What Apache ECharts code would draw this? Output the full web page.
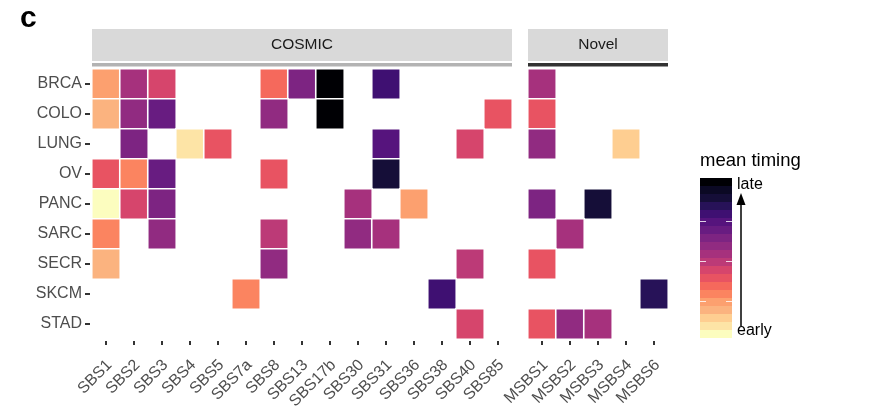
<!DOCTYPE html>
<html>
<head>
<meta charset="utf-8">
<script src="https://cdn.jsdelivr.net/npm/echarts@6/dist/echarts.min.js"></script>
<style>
html,body{margin:0;padding:0;background:#fff;}
#chart{width:873px;height:413px;}
</style>
</head>
<body>
<div id="chart"></div>
<script>
// ---- data ----
const cancerTypes = ['BRCA','COLO','LUNG','OV','PANC','SARC','SECR','SKCM','STAD'];
const cosmicSigs = ['SBS1','SBS2','SBS3','SBS4','SBS5','SBS7a','SBS8','SBS13','SBS17b','SBS30','SBS31','SBS36','SBS38','SBS40','SBS85'];
const novelSigs = ['MSBS1','MSBS2','MSBS3','MSBS4','MSBS6'];

// mean timing (0 = early, 1 = late), null = not present
const cosmicBRCA = [0.23,0.53,0.43,null,null,null,0.33,0.63,0.98,null,0.78,null,null,null,null];
const cosmicCOLO = [0.18,0.58,0.68,null,null,null,0.58,null,0.98,null,null,null,null,null,0.38];
const cosmicLUNG = [null,0.63,null,0.08,0.38,null,null,null,null,null,0.73,null,null,0.43,null];
const cosmicOV   = [0.38,0.28,0.68,null,null,null,0.38,null,null,null,0.88,null,null,null,null];
const cosmicPANC = [0.03,0.43,0.63,null,null,null,null,null,null,0.53,null,0.23,null,null,null];
const cosmicSARC = [0.28,null,0.58,null,null,null,0.48,null,null,0.58,0.53,null,null,null,null];
const cosmicSECR = [0.18,null,null,null,null,null,0.58,null,null,null,null,null,null,0.48,null];
const cosmicSKCM = [null,null,null,null,null,0.28,null,null,null,null,null,null,0.78,null,null];
const cosmicSTAD = [null,null,null,null,null,null,null,null,null,null,null,null,null,0.43,null];

const novelBRCA = [0.53,null,null,null,null];
const novelCOLO = [0.38,null,null,null,null];
const novelLUNG = [0.58,null,null,0.13,null];
const novelOV   = [null,null,null,null,null];
const novelPANC = [0.63,null,0.88,null,null];
const novelSARC = [null,0.53,null,null,null];
const novelSECR = [0.38,null,null,null,null];
const novelSKCM = [null,null,null,null,0.83];
const novelSTAD = [0.38,0.58,0.53,null,null];

// stepped magma palette, early -> late
const palette = ['#FCFDBF','#FDE4A6','#FECE91','#FBB37F','#FCA06F','#FB8460','#F5695C','#E85362','#D6456C','#BC3A77',
                 '#A6317D','#912B81','#7D2482','#681C81','#56147D','#3F1072','#271258','#150E38','#0B0924','#000004'];

// ---- build ----
const cosmicRows = [cosmicBRCA,cosmicCOLO,cosmicLUNG,cosmicOV,cosmicPANC,cosmicSARC,cosmicSECR,cosmicSKCM,cosmicSTAD];
const novelRows = [novelBRCA,novelCOLO,novelLUNG,novelOV,novelPANC,novelSARC,novelSECR,novelSKCM,novelSTAD];
function toCells(rows){
  const out=[];
  rows.forEach((r,yi)=>r.forEach((v,xi)=>{ if(v!==null) out.push([xi,yi,v]); }));
  return out;
}
const pieces = palette.map((c,j)=>({gte:j/20, lt:(j+1)/20 + (j===19?0.001:0), color:c}));

const FONT = '"Liberation Sans", Arial, Helvetica, sans-serif';
const chart = echarts.init(document.getElementById('chart'), null, {renderer:'canvas'});

const xLabel = {rotate:45, fontSize:16, color:'#4d4d4d', fontFamily:FONT, margin:18, verticalAlign:'top', lineHeight:10, interval:0};
const xTick = {show:true, length:4, lineStyle:{color:'#333', width:2}, alignWithLabel:true};

chart.setOption({
  animation:false,
  grid:[
    {left:92, top:69, width:420, height:270},
    {left:528, top:69, width:140, height:270}
  ],
  xAxis:[
    {type:'category', gridIndex:0, data:cosmicSigs, offset:2, axisLine:{show:false}, axisTick:xTick, axisLabel:xLabel, splitLine:{show:false}},
    {type:'category', gridIndex:1, data:novelSigs, offset:2, axisLine:{show:false}, axisTick:xTick, axisLabel:xLabel, splitLine:{show:false}}
  ],
  yAxis:[
    {type:'category', gridIndex:0, data:cancerTypes, inverse:true, offset:2, axisLine:{show:false},
     axisTick:{show:true, length:5, lineStyle:{color:'#333', width:2}, alignWithLabel:true},
     axisLabel:{fontSize:16, color:'#4d4d4d', fontFamily:FONT, margin:8}, splitLine:{show:false}},
    {type:'category', gridIndex:1, data:cancerTypes, inverse:true, axisLine:{show:false}, axisTick:{show:false}, axisLabel:{show:false}, splitLine:{show:false}}
  ],
  visualMap:{
    type:'piecewise', seriesIndex:[0,1], pieces:pieces, orient:'vertical',
    left:700, top:178, itemWidth:32, itemHeight:8, itemGap:0, itemSymbol:'rect',
    showLabel:false, padding:0, selectedMode:false, hoverLink:false
  },
  series:[
    {type:'heatmap', xAxisIndex:0, yAxisIndex:0, data:toCells(cosmicRows),
     itemStyle:{borderColor:'#fff', borderWidth:1.6}, emphasis:{disabled:true}},
    {type:'heatmap', xAxisIndex:1, yAxisIndex:1, data:toCells(novelRows),
     itemStyle:{borderColor:'#fff', borderWidth:1.6}, emphasis:{disabled:true}}
  ],
  graphic:[
    {type:'text', x:20, y:19, style:{text:'c', font:'bold 30px '+FONT, fill:'#000', textVerticalAlign:'middle'}},
    {type:'rect', shape:{x:92, y:29, width:420, height:32}, style:{fill:'#d9d9d9'}},
    {type:'rect', shape:{x:92, y:63, width:420, height:3.5}, style:{fill:'#b3b3b3'}},
    {type:'text', x:302, y:45, style:{text:'COSMIC', font:'15.5px '+FONT, fill:'#1a1a1a', textAlign:'center', textVerticalAlign:'middle'}},
    {type:'rect', shape:{x:528, y:29, width:140, height:32}, style:{fill:'#d9d9d9'}},
    {type:'rect', shape:{x:528, y:63, width:140, height:3.5}, style:{fill:'#333333'}},
    {type:'text', x:598, y:45, style:{text:'Novel', font:'15.5px '+FONT, fill:'#1a1a1a', textAlign:'center', textVerticalAlign:'middle'}},
    {type:'text', x:700, y:161, style:{text:'mean timing', font:'18.5px '+FONT, fill:'#000', textVerticalAlign:'middle'}},
    {type:'text', x:737, y:185, style:{text:'late', font:'16px '+FONT, fill:'#000', textVerticalAlign:'middle'}},
    {type:'text', x:737, y:331, style:{text:'early', font:'16px '+FONT, fill:'#000', textVerticalAlign:'middle'}},
    {type:'line', shape:{x1:741, y1:326, x2:741, y2:204}, style:{stroke:'#000', lineWidth:1.5}},
    {type:'polygon', shape:{points:[[741,193],[736.5,205],[745.5,205]]}, style:{fill:'#000'}},
    {type:'line', shape:{x1:700, y1:221.5, x2:706, y2:221.5}, style:{stroke:'#fff', lineWidth:1, opacity:0.8}, z:100},
    {type:'line', shape:{x1:726, y1:221.5, x2:732, y2:221.5}, style:{stroke:'#fff', lineWidth:1, opacity:0.8}, z:100},
    {type:'line', shape:{x1:700, y1:261.5, x2:706, y2:261.5}, style:{stroke:'#fff', lineWidth:1, opacity:0.8}, z:100},
    {type:'line', shape:{x1:726, y1:261.5, x2:732, y2:261.5}, style:{stroke:'#fff', lineWidth:1, opacity:0.8}, z:100},
    {type:'line', shape:{x1:700, y1:301.5, x2:706, y2:301.5}, style:{stroke:'#fff', lineWidth:1, opacity:0.8}, z:100},
    {type:'line', shape:{x1:726, y1:301.5, x2:732, y2:301.5}, style:{stroke:'#fff', lineWidth:1, opacity:0.8}, z:100}
  ]
});
</script>
</body>
</html>
